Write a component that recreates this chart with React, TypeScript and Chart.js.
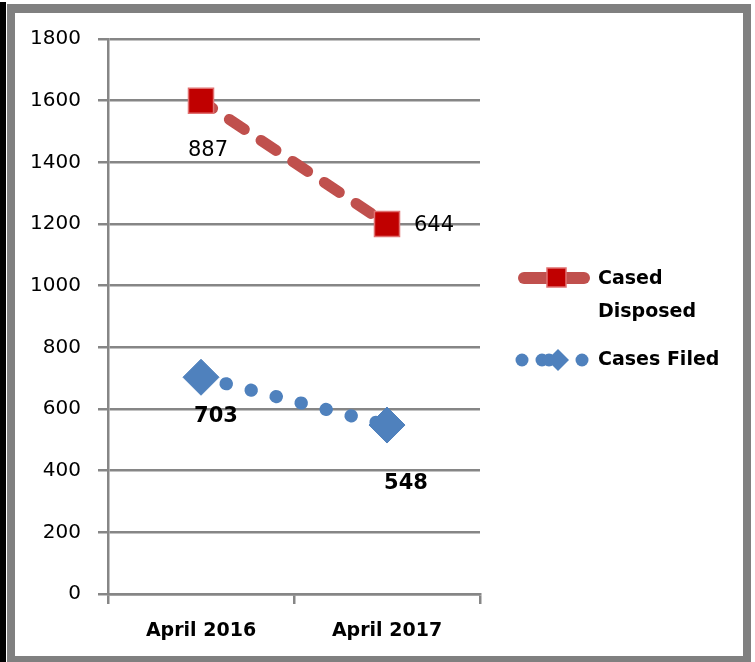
import React, { useEffect, useRef } from "react";
import { Chart, registerables } from "chart.js";

Chart.register(...registerables);

const categories = ["April 2016", "April 2017"];
const disposedValues = [1600, 1200];
const disposedLabels = ["887", "644"];
const filedValues = [703, 548];
const filedLabels = ["703", "548"];
const yTicks = [0, 200, 400, 600, 800, 1000, 1200, 1400, 1600, 1800];

const FONT = "'DejaVu Sans', sans-serif";
const RED_LINE = "#C0504D";
const RED_MARK = "#C00000";
const BLUE = "#4F81BD";
const GRID = "#868686";

const framePlugin = {
  id: "frame",
  beforeDraw(chart: any) {
    const ctx = chart.ctx;
    const W = chart.width;
    const H = chart.height;
    ctx.save();
    ctx.fillStyle = "#ffffff";
    ctx.fillRect(0, 0, W, H);
    ctx.fillStyle = "#000000";
    ctx.fillRect(0, 2, 6, H - 2);
    ctx.fillStyle = "#808080";
    ctx.fillRect(7, 4, 8, H - 4);
    ctx.fillRect(7, 4, 743, 9);
    ctx.fillRect(743, 4, 8, H - 4);
    ctx.fillRect(7, 656, 744, 6);
    ctx.restore();
  },
};

const labelOffsets = [
  [
    { dx: 7, dy: 50, align: "center" },
    { dx: 27, dy: 2, align: "left" },
  ],
  [
    { dx: 15, dy: 39, align: "center" },
    { dx: 19, dy: 59, align: "center" },
  ],
];

const dataLabelPlugin = {
  id: "dataLabelsCustom",
  afterDatasetsDraw(chart: any) {
    const ctx = chart.ctx;
    const sets = [
      { labels: disposedLabels, weight: "normal" },
      { labels: filedLabels, weight: "bold" },
    ];
    ctx.save();
    ctx.fillStyle = "#000";
    ctx.textBaseline = "middle";
    sets.forEach((s, di) => {
      const meta = chart.getDatasetMeta(di);
      meta.data.forEach((pt: any, i: number) => {
        const o = labelOffsets[di][i];
        ctx.font = `${s.weight} 21px ${FONT}`;
        ctx.textAlign = o.align;
        ctx.fillText(s.labels[i], pt.x + o.dx, pt.y + o.dy);
      });
    });
    ctx.restore();
  },
};

const legendPlugin = {
  id: "legendCustom",
  afterDraw(chart: any) {
    const ctx = chart.ctx;
    const names = chart.data.datasets.map((d: any) => d.label);
    ctx.save();
    // red sample
    ctx.strokeStyle = RED_LINE;
    ctx.lineWidth = 12;
    ctx.lineCap = "round";
    ctx.beginPath();
    ctx.moveTo(524, 278);
    ctx.lineTo(584, 278);
    ctx.stroke();
    ctx.fillStyle = RED_MARK;
    ctx.fillRect(547, 268, 19, 19);
    ctx.strokeStyle = "#E07070";
    ctx.lineWidth = 1.5;
    ctx.strokeRect(547, 268, 19, 19);
    // blue sample
    ctx.fillStyle = BLUE;
    [522, 542, 549, 582].forEach((x) => {
      ctx.beginPath();
      ctx.arc(x, 360, 6.5, 0, Math.PI * 2);
      ctx.fill();
    });
    ctx.beginPath();
    ctx.moveTo(558, 349);
    ctx.lineTo(569, 360);
    ctx.lineTo(558, 371);
    ctx.lineTo(547, 360);
    ctx.closePath();
    ctx.fill();
    // texts
    ctx.fillStyle = "#000";
    ctx.font = `bold 19px ${FONT}`;
    ctx.textAlign = "left";
    ctx.textBaseline = "middle";
    const first = String(names[0]).split(" ");
    ctx.fillText(first[0], 598, 279);
    ctx.fillText(first.slice(1).join(" "), 598, 312);
    ctx.fillText(names[1], 598, 360);
    ctx.restore();
  },
};

export default function App() {
  const ref = useRef<HTMLCanvasElement>(null);
  useEffect(() => {
    if (!ref.current) return;
    const chart = new Chart(ref.current, {
      type: "line",
      data: {
        labels: categories,
        datasets: [
          {
            label: "Cased Disposed",
            data: disposedValues,
            borderColor: RED_LINE,
            borderWidth: 11,
            borderDash: [18, 20],
            borderDashOffset: 4,
            borderCapStyle: "round",
            pointStyle: "rect",
            pointRadius: 17.7,
            pointBackgroundColor: RED_MARK,
            pointBorderColor: "#E07070",
            pointBorderWidth: 1.5,
            tension: 0,
          },
          {
            label: "Cases Filed",
            data: filedValues,
            borderColor: BLUE,
            borderWidth: 13,
            borderDash: [0.5, 25.3],
            borderCapStyle: "round",
            pointStyle: "rectRot",
            pointRadius: 18,
            pointBackgroundColor: BLUE,
            pointBorderColor: BLUE,
            pointBorderWidth: 1,
            tension: 0,
          },
        ],
      },
      options: {
        animation: false,
        responsive: false,
        devicePixelRatio: 1,
        layout: { padding: { top: 39, left: 0, right: 275, bottom: 0 } },
        plugins: {
          legend: { display: false },
          tooltip: { enabled: false },
          title: { display: false },
        },
        scales: {
          x: {
            type: "category",
            offset: true,
            grid: {
              offset: true,
              drawOnChartArea: false,
              drawTicks: true,
              tickLength: 10,
              color: GRID,
              lineWidth: 2.5,
            },
            border: { display: true, color: GRID, width: 2.5 },
            ticks: {
              color: "#000",
              font: { family: FONT, size: 19, weight: "bold" },
              padding: 16,
              maxRotation: 0,
            },
            afterFit(scale: any) {
              scale.height = 68;
            },
          },
          y: {
            min: 0,
            max: 1800,
            afterBuildTicks(scale: any) {
              scale.ticks = yTicks.map((v) => ({ value: v }));
            },
            grid: {
              drawTicks: true,
              tickLength: 10,
              color: GRID,
              lineWidth: 2.5,
            },
            border: { display: true, color: GRID, width: 2.5 },
            ticks: {
              color: "#000",
              font: { family: FONT, size: 20 },
              padding: 17,
              callback: (v: any) => String(v),
            },
            afterFit(scale: any) {
              scale.width = 108;
            },
          },
        },
      },
      plugins: [framePlugin, dataLabelPlugin, legendPlugin],
    } as any);
    return () => chart.destroy();
  }, []);
  return (
    <div style={{ position: "absolute", left: 0, top: 0, width: 755, height: 662 }}>
      <canvas ref={ref} width={755} height={662} style={{ display: "block" }} />
    </div>
  );
}
